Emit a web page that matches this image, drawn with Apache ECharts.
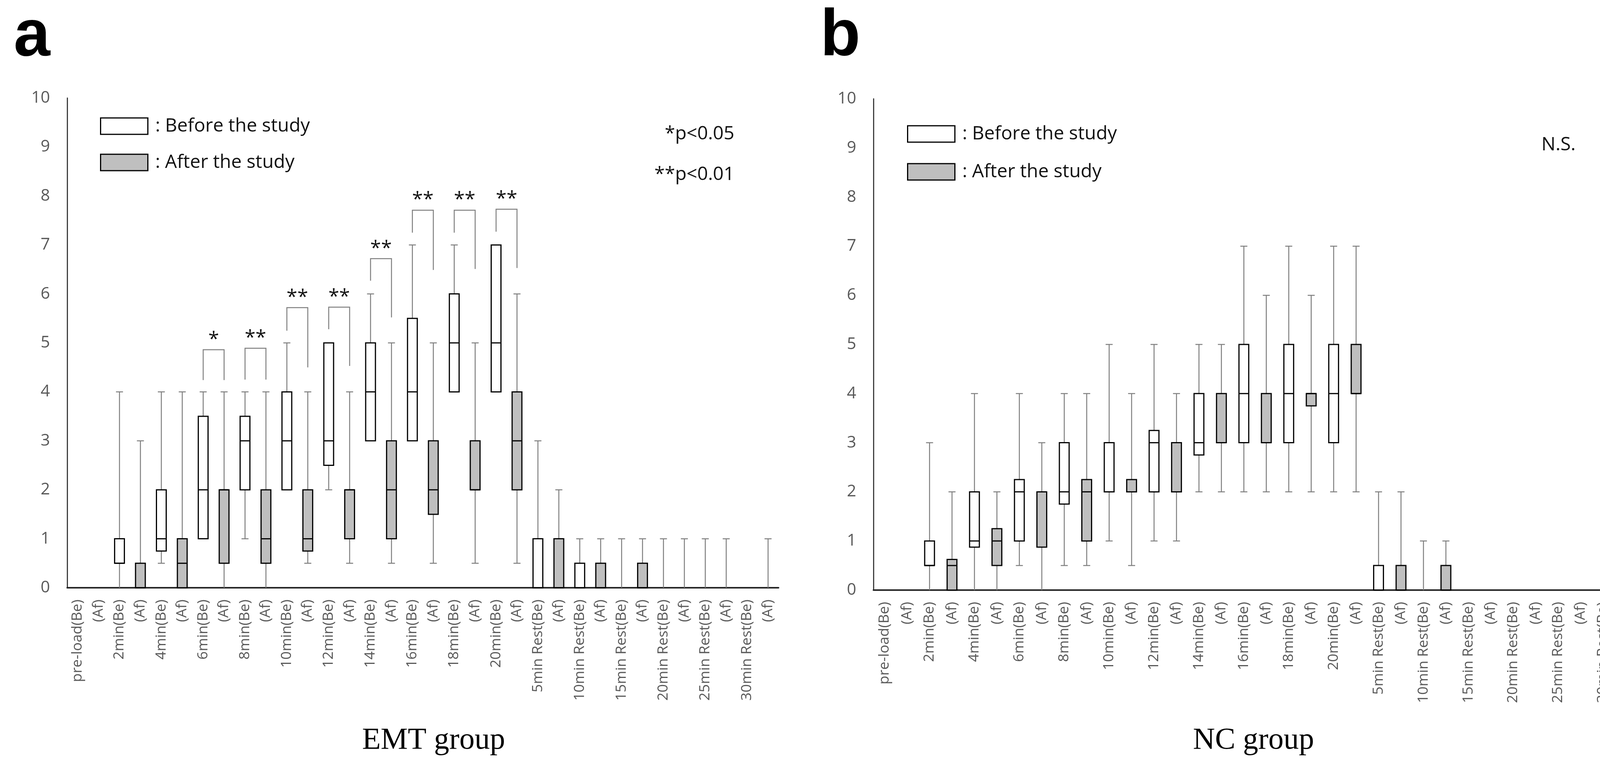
<!DOCTYPE html>
<html>
<head>
<meta charset="utf-8">
<script src="https://cdn.jsdelivr.net/npm/echarts@6/dist/echarts.min.js"></script>
<style>
html,body{margin:0;padding:0;background:#fff;}
#c{width:4236px;height:1964px;}
</style>
</head>
<body>
<div id="c"></div>
<script>
// ---------- DATA ----------
const timepoints = ['pre-load','2min','4min','6min','8min','10min','12min','14min','16min','18min','20min',
  '5min Rest','10min Rest','15min Rest','20min Rest','25min Rest','30min Rest'];
const yTicks = [0,1,2,3,4,5,6,7,8,9,10];

// each entry: [min, Q1, median, Q3, max]  (null = nothing drawn)
const emtBefore = [
  null,
  [0, 0.5, 0.5, 1, 4],
  [0.5, 0.75, 1, 2, 4],
  [1, 1, 2, 3.5, 4],
  [1, 2, 3, 3.5, 4],
  [2, 2, 3, 4, 5],
  [2, 2.5, 3, 5, 5],
  [3, 3, 4, 5, 6],
  [3, 3, 4, 5.5, 7],
  [4, 4, 5, 6, 7],
  [4, 4, 5, 7, 7],
  [0, 0, 0, 1, 3],
  [0, 0, 0, 0.5, 1],
  [0, 0, 0, 0, 1],
  [0, 0, 0, 0, 1],
  [0, 0, 0, 0, 1],
  null
];
const emtAfter = [
  null,
  [0, 0, 0, 0.5, 3],
  [0, 0, 0.5, 1, 4],
  [0, 0.5, 2, 2, 4],
  [0, 0.5, 1, 2, 4],
  [0.5, 0.75, 1, 2, 4],
  [0.5, 1, 2, 2, 4],
  [0.5, 1, 2, 3, 5],
  [0.5, 1.5, 2, 3, 5],
  [0.5, 2, 2, 3, 5],
  [0.5, 2, 3, 4, 6],
  [0, 0, 0, 1, 2],
  [0, 0, 0, 0.5, 1],
  [0, 0, 0, 0.5, 1],
  [0, 0, 0, 0, 1],
  [0, 0, 0, 0, 1],
  [0, 0, 0, 0, 1]
];
const ncBefore = [
  null,
  [0, 0.5, 0.5, 1, 3],
  [0, 0.875, 1, 2, 4],
  [0.5, 1, 2, 2.25, 4],
  [0.5, 1.75, 2, 3, 4],
  [1, 2, 2, 3, 5],
  [1, 2, 3, 3.25, 5],
  [2, 2.75, 3, 4, 5],
  [2, 3, 4, 5, 7],
  [2, 3, 4, 5, 7],
  [2, 3, 4, 5, 7],
  [0, 0, 0, 0.5, 2],
  [0, 0, 0, 0, 1],
  null, null, null, null
];
const ncAfter = [
  null,
  [0, 0, 0.5, 0.625, 2],
  [0, 0.5, 1, 1.25, 2],
  [0, 0.875, 2, 2, 3],
  [0.5, 1, 2, 2.25, 4],
  [0.5, 2, 2, 2.25, 4],
  [1, 2, 2, 3, 4],
  [2, 3, 3, 4, 5],
  [2, 3, 3, 4, 6],
  [2, 3.75, 4, 4, 6],
  [2, 4, 4, 5, 7],
  [0, 0, 0, 0.5, 2],
  [0, 0, 0, 0.5, 1],
  null, null, null, null
];

// significance brackets (EMT): [category index of (Be), bracket top, left leg end, right leg end]
const emtBrackets = [
  [6, 4.86, 4.24, 4.24],
  [8, 4.89, 4.25, 4.25],
  [10, 5.72, 5.25, 4.50],
  [12, 5.73, 5.28, 4.53],
  [14, 6.72, 6.27, 5.52],
  [16, 7.71, 7.25, 6.49],
  [18, 7.71, 7.25, 6.51],
  [20, 7.73, 7.27, 6.53]
];
const emtMarks = ['*','**','**','**','**','**','**','**'];

const legendNames = [': Before the study', ': After the study'];
const pNotes = ['*p<0.05', '**p<0.01'];
const ncNote = 'N.S.';
const groupNames = ['EMT group', 'NC group'];
const panelLetters = ['a', 'b'];

// ---------- BUILD ----------
const categories = timepoints.flatMap(t => [t + '(Be)', t + '(Af)']);
function boxData(arr, offset) {
  return arr.map((v, i) => v ? [2 * i + offset].concat(v) : null).filter(Boolean);
}

const WHITE = '#ffffff', GRAY = '#bfbfbf';
const BOX_W = 25, CAP_W = 18;

function renderBox(params, api) {
  const xi = api.value(0);
  const mn = api.value(1), q1 = api.value(2), md = api.value(3), q3 = api.value(4), mx = api.value(5);
  const cx = api.coord([xi, 0])[0];
  const Y = v => api.coord([xi, v])[1];
  const ws = { stroke: '#7f7f7f', lineWidth: 2.5 };
  const ch = [];
  if (mx > q3) {
    ch.push({ type: 'line', shape: { x1: cx, y1: Y(q3), x2: cx, y2: Y(mx) }, style: ws });
    ch.push({ type: 'line', shape: { x1: cx - CAP_W / 2, y1: Y(mx), x2: cx + CAP_W / 2, y2: Y(mx) }, style: ws });
  }
  if (mn < q1) {
    ch.push({ type: 'line', shape: { x1: cx, y1: Y(q1), x2: cx, y2: Y(mn) }, style: ws });
    if (mn > 0) ch.push({ type: 'line', shape: { x1: cx - CAP_W / 2, y1: Y(mn), x2: cx + CAP_W / 2, y2: Y(mn) }, style: ws });
  }
  if (q3 > q1) {
    ch.push({ type: 'rect', shape: { x: cx - BOX_W / 2, y: Y(q3), width: BOX_W, height: Y(q1) - Y(q3) },
      style: { fill: api.visual('color'), stroke: '#000', lineWidth: 3 } });
    ch.push({ type: 'line', shape: { x1: cx - BOX_W / 2, y1: Y(md), x2: cx + BOX_W / 2, y2: Y(md) },
      style: { stroke: '#000', lineWidth: 3 } });
  }
  return { type: 'group', children: ch };
}

function renderBracket(params, api) {
  const i = api.value(0), top = api.value(1), l = api.value(2), r = api.value(3);
  const p1 = api.coord([i, l]), p2 = api.coord([i, top]), p3 = api.coord([i + 1, top]), p4 = api.coord([i + 1, r]);
  return { type: 'group', children: [
    { type: 'polyline', shape: { points: [p1, p2, p3, p4] }, style: { stroke: '#808080', lineWidth: 2.5, fill: null } },
    { type: 'text', style: { text: emtMarks[params.dataIndex], x: (p2[0] + p3[0]) / 2, y: p2[1] - 25,
      font: '50px "Open Sans"', fill: '#111', align: 'center', verticalAlign: 'middle',
      textAlign: 'center', textVerticalAlign: 'middle' } }
  ] };
}

function boxSeries(name, data, color, g) {
  return {
    type: 'custom', name: name, xAxisIndex: g, yAxisIndex: g,
    renderItem: renderBox, data: data, clip: false,
    dimensions: ['x', 'min', 'q1', 'med', 'q3', 'max'],
    encode: { x: 0, y: [1, 2, 3, 4, 5] },
    itemStyle: { color: color, borderColor: '#000', borderWidth: 3 },
    silent: true
  };
}

const grids = [
  { left: 172, top: 251, width: 1821, height: 1254 },
  { left: 2236, top: 253, width: 1954, height: 1258 }
];

const option = {
  backgroundColor: '#fff',
  animation: false,
  grid: grids,
  xAxis: [0, 1].map(g => ({
    gridIndex: g, type: 'category', data: categories,
    axisLine: { show: true, lineStyle: { color: '#262626', width: 4 } },
    axisTick: { show: false },
    splitLine: { show: false },
    axisLabel: { rotate: 90, interval: 0, color: '#595959', fontSize: 37, fontFamily: 'Open Sans', margin: 30,
      formatter: v => v.endsWith('(Af)') ? '(Af)' : v }
  })),
  yAxis: [0, 1].map(g => ({
    gridIndex: g, type: 'value', min: yTicks[0], max: yTicks[yTicks.length - 1], interval: 1,
    axisLine: { show: true, lineStyle: { color: '#404040', width: 3 } },
    axisTick: { show: false },
    splitLine: { show: false },
    axisLabel: { color: '#595959', fontSize: 42, fontFamily: 'Open Sans', margin: 44 }
  })),
  legend: [
    { left: 251, top: 294, gap: 45 },
    { left: 2317, top: 314, gap: 49 }
  ].map(p => ({
    left: p.left, top: p.top, orient: 'vertical', itemGap: p.gap,
    itemWidth: 121, itemHeight: 42, selectedMode: false,
    textStyle: { fontSize: 48, fontFamily: 'Open Sans', color: '#111', padding: [0, 0, 0, 14] },
    data: [
      { name: legendNames[0], icon: 'rect', itemStyle: { color: WHITE, borderColor: '#000', borderWidth: 3 } },
      { name: legendNames[1], icon: 'rect', itemStyle: { color: GRAY, borderColor: '#000', borderWidth: 3 } }
    ]
  })),
  graphic: [
    { type: 'text', x: 35, y: 96, style: { text: panelLetters[0], font: 'bold 168px "Liberation Sans"', fill: '#000',
      align: 'left', verticalAlign: 'middle', textAlign: 'left', textVerticalAlign: 'middle' } },
    { type: 'text', x: 2100, y: 96, style: { text: panelLetters[1], font: 'bold 168px "Liberation Sans"', fill: '#000',
      align: 'left', verticalAlign: 'middle', textAlign: 'left', textVerticalAlign: 'middle' } },
    { type: 'text', x: 1880, y: 343, style: { text: pNotes[0], font: '48px "Open Sans"', fill: '#111',
      align: 'right', verticalAlign: 'middle', textAlign: 'right', textVerticalAlign: 'middle' } },
    { type: 'text', x: 1880, y: 447, style: { text: pNotes[1], font: '48px "Open Sans"', fill: '#111',
      align: 'right', verticalAlign: 'middle', textAlign: 'right', textVerticalAlign: 'middle' } },
    { type: 'text', x: 3946, y: 371, style: { text: ncNote, font: '48px "Open Sans"', fill: '#111',
      align: 'left', verticalAlign: 'middle', textAlign: 'left', textVerticalAlign: 'middle' } },
    { type: 'text', x: 1110, y: 1897, style: { text: groupNames[0], font: '78px "Liberation Serif"', fill: '#000',
      align: 'center', verticalAlign: 'middle', textAlign: 'center', textVerticalAlign: 'middle' } },
    { type: 'text', x: 3209, y: 1897, style: { text: groupNames[1], font: '78px "Liberation Serif"', fill: '#000',
      align: 'center', verticalAlign: 'middle', textAlign: 'center', textVerticalAlign: 'middle' } }
  ],
  series: [
    boxSeries(legendNames[0], boxData(emtBefore, 0), WHITE, 0),
    boxSeries(legendNames[1], boxData(emtAfter, 1), GRAY, 0),
    boxSeries(legendNames[0], boxData(ncBefore, 0), WHITE, 1),
    boxSeries(legendNames[1], boxData(ncAfter, 1), GRAY, 1),
    {
      type: 'custom', name: 'significance', xAxisIndex: 0, yAxisIndex: 0,
      renderItem: renderBracket, data: emtBrackets, clip: false, silent: true,
      encode: { x: 0, y: [1, 2, 3] }
    }
  ]
};

const chart = echarts.init(document.getElementById('c'));
chart.setOption(option);
</script>
</body>
</html>
